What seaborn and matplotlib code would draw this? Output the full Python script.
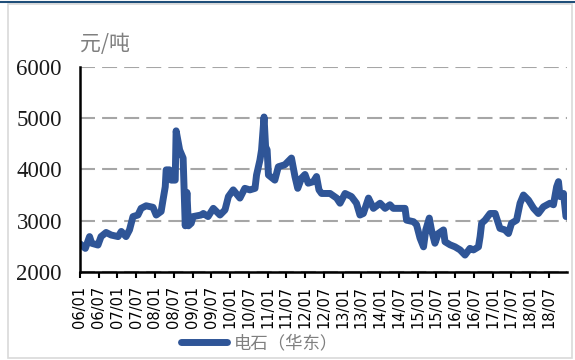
import matplotlib
matplotlib.use("Agg")
import matplotlib.pyplot as plt
import matplotlib.dates as mdates
from matplotlib.lines import Line2D
from matplotlib.patches import Rectangle
import pandas as pd
import seaborn as sns

# 电石（华东）价格，元/吨
dates = [
    "2006-01-01", "2006-02-22", "2006-04-04", "2006-04-25", "2006-06-25", "2006-07-25",
    "2006-09-12", "2006-11-01", "2007-01-07", "2007-02-07", "2007-03-25", "2007-04-28",
    "2007-06-01", "2007-07-19", "2007-08-19", "2007-10-07", "2007-12-13", "2008-01-13",
    "2008-03-01", "2008-03-19", "2008-04-10", "2008-04-19", "2008-05-22", "2008-06-07",
    "2008-07-16", "2008-07-25", "2008-08-28", "2008-10-01", "2008-10-22", "2008-11-07",
    "2008-11-22", "2008-12-19", "2009-01-07", "2009-03-25", "2009-04-16", "2009-06-01",
    "2009-07-22", "2009-09-25", "2009-11-13", "2009-12-16", "2010-02-01", "2010-04-07",
    "2010-05-25", "2010-07-13", "2010-09-01", "2010-09-16", "2010-10-19", "2010-11-04",
    "2010-11-28", "2010-12-13", "2010-12-28", "2011-01-10", "2011-03-13", "2011-04-16",
    "2011-06-19", "2011-08-22", "2011-09-25", "2011-10-22", "2011-11-28", "2012-01-01",
    "2012-02-01", "2012-03-22", "2012-04-22", "2012-05-16", "2012-06-10", "2012-09-01",
    "2012-11-04", "2012-12-07", "2013-01-25", "2013-03-28", "2013-05-16", "2013-06-19",
    "2013-07-22", "2013-09-10", "2013-10-28", "2014-01-01", "2014-02-19", "2014-04-07",
    "2014-05-10", "2014-09-01", "2014-09-16", "2014-11-22", "2014-12-22", "2015-01-25",
    "2015-02-28", "2015-03-22", "2015-04-25", "2015-05-16", "2015-06-19", "2015-07-22",
    "2015-09-10", "2015-09-25", "2015-11-13", "2016-01-01", "2016-02-19", "2016-04-07",
    "2016-05-25", "2016-06-28", "2016-08-16", "2016-09-01", "2016-09-16", "2016-10-19",
    "2016-12-07", "2017-01-25", "2017-03-13", "2017-05-01", "2017-06-04", "2017-07-04",
    "2017-08-22", "2017-09-25", "2017-10-28", "2017-12-16", "2018-02-04", "2018-03-22",
    "2018-05-10", "2018-07-13", "2018-08-16", "2018-09-16", "2018-10-04", "2018-10-19",
    "2018-11-22", "2018-12-16",
]
prices = [
    2550, 2460, 2690, 2560, 2525, 2690,
    2770, 2720, 2690, 2790, 2690, 2820,
    3080, 3110, 3240, 3290, 3260, 3110,
    3180, 3400, 3660, 3990, 3990, 3790,
    3790, 4750, 4380, 4220, 2900, 3550,
    2900, 2950, 3080, 3110, 3140, 3080,
    3240, 3110, 3210, 3470, 3600, 3440,
    3630, 3600, 3630, 3890, 4180, 4380,
    5020, 4440, 4380, 3890, 3790, 4050,
    4090, 4220, 3860, 3630, 3830, 3900,
    3730, 3760, 3860, 3600, 3530, 3530,
    3440, 3340, 3530, 3470, 3340, 3110,
    3140, 3440, 3240, 3340, 3240, 3310,
    3240, 3240, 3010, 2980, 2920, 2660,
    2490, 2820, 3050, 2820, 2560, 2750,
    2820, 2590, 2530, 2490, 2430, 2330,
    2460, 2430, 2490, 2690, 2950, 3010,
    3140, 3140, 2850, 2820, 2750, 2950,
    3010, 3340, 3500, 3400, 3240, 3140,
    3270, 3340, 3310, 3660, 3760, 3470,
    3530, 3080,
]
series_name = "电石（华东）"
unit_label = "元/吨"
y_ticks = [2000, 3000, 4000, 5000, 6000]

df = pd.DataFrame({"date": pd.to_datetime(dates), "price": prices, "series": series_name})

sns.set_theme(style="white")
plt.rcParams["font.family"] = ["DejaVu Sans", "Noto Sans CJK SC"]

line_color = "#2F5597"
grid_color = "#A6A6A6"

fig = plt.figure(figsize=(5.75, 3.6), dpi=100)
ax = fig.add_axes([80 / 575, 1 - 272 / 360, (567 - 80) / 575, (272 - 66.7) / 360])

sns.lineplot(data=df, x="date", y="price", ax=ax, color=line_color,
             linewidth=5.0, legend=False)
for ln in ax.get_lines():
    ln.set_solid_capstyle("round")
    ln.set_solid_joinstyle("round")

ax.set_ylim(2000, 6000)
ax.set_yticks(y_ticks)
ax.set_xlim(pd.Timestamp("2006-01-01"), pd.Timestamp("2018-12-26"))

ax.yaxis.grid(True, linestyle=(0, (7.2, 3.4)), linewidth=1.5, color=grid_color)
ax.xaxis.grid(False)
ax.set_axisbelow(True)

for side in ("top", "right"):
    ax.spines[side].set_visible(False)
for side in ("left", "bottom"):
    ax.spines[side].set_color("black")
    ax.spines[side].set_linewidth(1.8)

ax.xaxis.set_major_locator(mdates.MonthLocator(bymonth=[1, 7]))
ax.xaxis.set_major_formatter(mdates.DateFormatter("%y/%m"))
ax.tick_params(axis="x", which="major", direction="out", length=4, width=1.5,
               color="black", labelsize=10.5, labelrotation=90, pad=6,
               labelcolor="black", bottom=True)
ax.tick_params(axis="y", length=0, pad=13, labelsize=16.5, labelcolor="#1a1a1a")
for lbl in ax.get_yticklabels():
    lbl.set_family("Liberation Serif")

ax.set_xlabel("")
ax.set_ylabel("")

fig.text(80 / 575, 1 - 44 / 360, unit_label, fontsize=15, color="#7F7F7F",
         family=["Noto Sans CJK SC", "DejaVu Sans"], va="center", ha="left")

handle = Line2D([], [], color=line_color, linewidth=5.0, solid_capstyle="round")
fig.legend([handle], [series_name], loc="center", frameon=False,
           bbox_to_anchor=(260 / 575, 1 - 343 / 360), handlelength=2.6,
           handletextpad=0.45, borderpad=0, borderaxespad=0,
           prop={"family": ["Noto Sans CJK SC", "DejaVu Sans"], "size": 12.5},
           labelcolor="#7F7F7F")

# frame around the figure
fig.patches.append(Rectangle((8 / 575, 1 - 358 / 360), (572 - 8) / 575, (358 - 4) / 360,
                             transform=fig.transFigure, fill=False,
                             edgecolor="#D9D9D9", linewidth=1.2))
fig.lines.append(Line2D([0, 1], [1 - 1.5 / 360, 1 - 1.5 / 360], transform=fig.transFigure,
                        color="#1F4E79", linewidth=1.5))

fig.savefig("out.png", dpi=100)
